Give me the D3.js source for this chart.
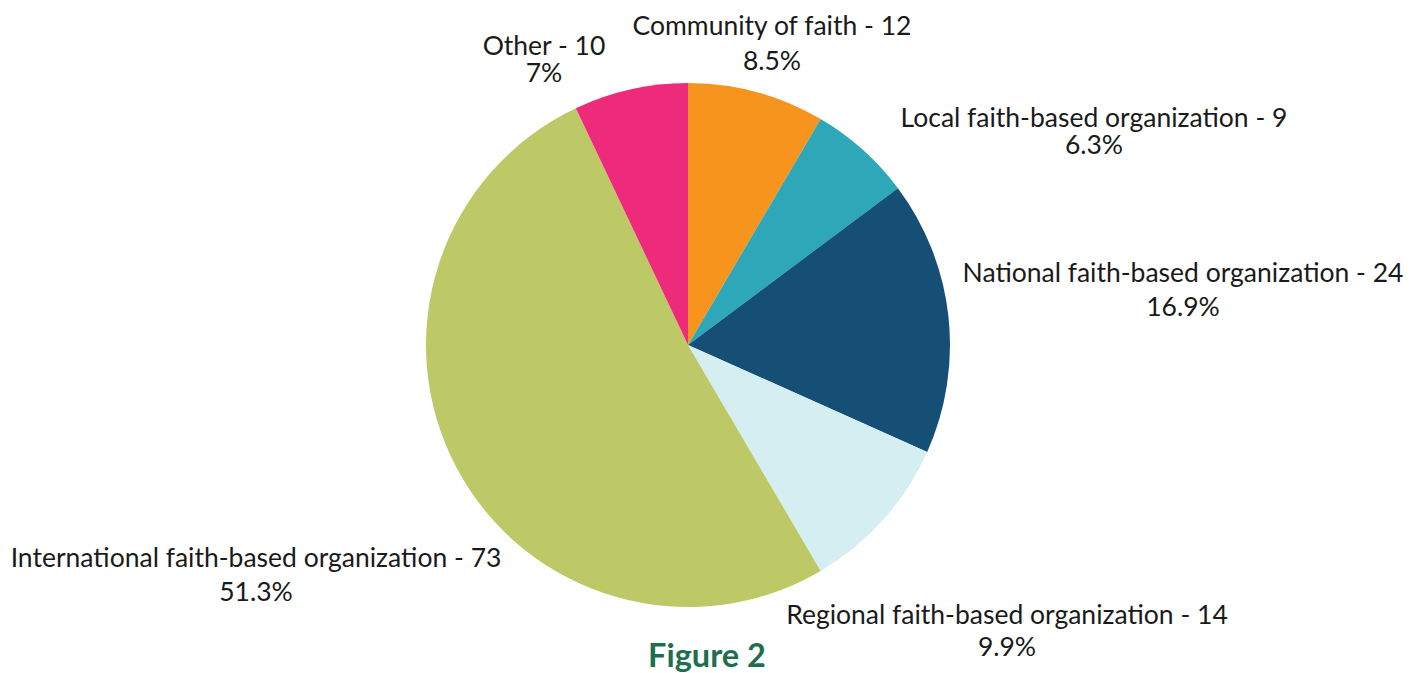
<!DOCTYPE html>
<html><head><meta charset="utf-8">
<script src="https://cdn.jsdelivr.net/npm/d3@7"></script>
<style>body{margin:0;background:#fff;} svg{display:block;}</style>
</head><body><svg id="c" width="1421" height="673"></svg>
<script>
const categories = ["Community of faith","Local faith-based organization","National faith-based organization","Regional faith-based organization","International faith-based organization","Other"];
const counts = [12, 9, 24, 14, 73, 10];
const percentLabels = ["8.5%","6.3%","16.9%","9.9%","51.3%","7%"];
const colors = ["#F7941D","#2EA7B8","#154F75","#D5EEF1","#BCC966","#EE2A7B"];
const title = "Figure 2";
// label layout: [dx, dy, lineGap] of label centre (line 1 baseline) from pie centre
const labelLayout = [[84,-310,35],[406,-218,27],[495,-63,34],[319,279,32],[-432,222,34],[-144,-290,27]];

const svg = d3.select("#c");
const cx = 688, cy = 345, R = 262;
const pie = d3.pie().sort(null).value(d => d)(counts);
const arc = d3.arc().innerRadius(0).outerRadius(R);
const g = svg.append("g").attr("transform", `translate(${cx},${cy})`);
g.selectAll("path").data(pie).join("path")
  .attr("d", arc).attr("fill", (d,i) => colors[i]);

const lab = g.selectAll("text.lab").data(pie).join("text")
  .attr("class","lab")
  .attr("text-anchor","middle")
  .attr("font-family","Lato, sans-serif")
  .attr("font-size", 26.5)
  .attr("fill","#1a1a1a")
  .attr("x", (d,i) => labelLayout[i][0])
  .attr("y", (d,i) => labelLayout[i][1]);
lab.append("tspan").attr("x",(d,i)=>labelLayout[i][0]).text((d,i)=>`${categories[i]} - ${counts[i]}`);
lab.append("tspan").attr("x",(d,i)=>labelLayout[i][0]).attr("dy",(d,i)=>labelLayout[i][2]).text((d,i)=>percentLabels[i]);

svg.append("text").attr("x",707).attr("y",667).attr("text-anchor","middle")
  .attr("font-family","Lato, sans-serif").attr("font-weight","bold").attr("font-size",32.5)
  .attr("fill","#1E6E50").text(title);
</script></body></html>
